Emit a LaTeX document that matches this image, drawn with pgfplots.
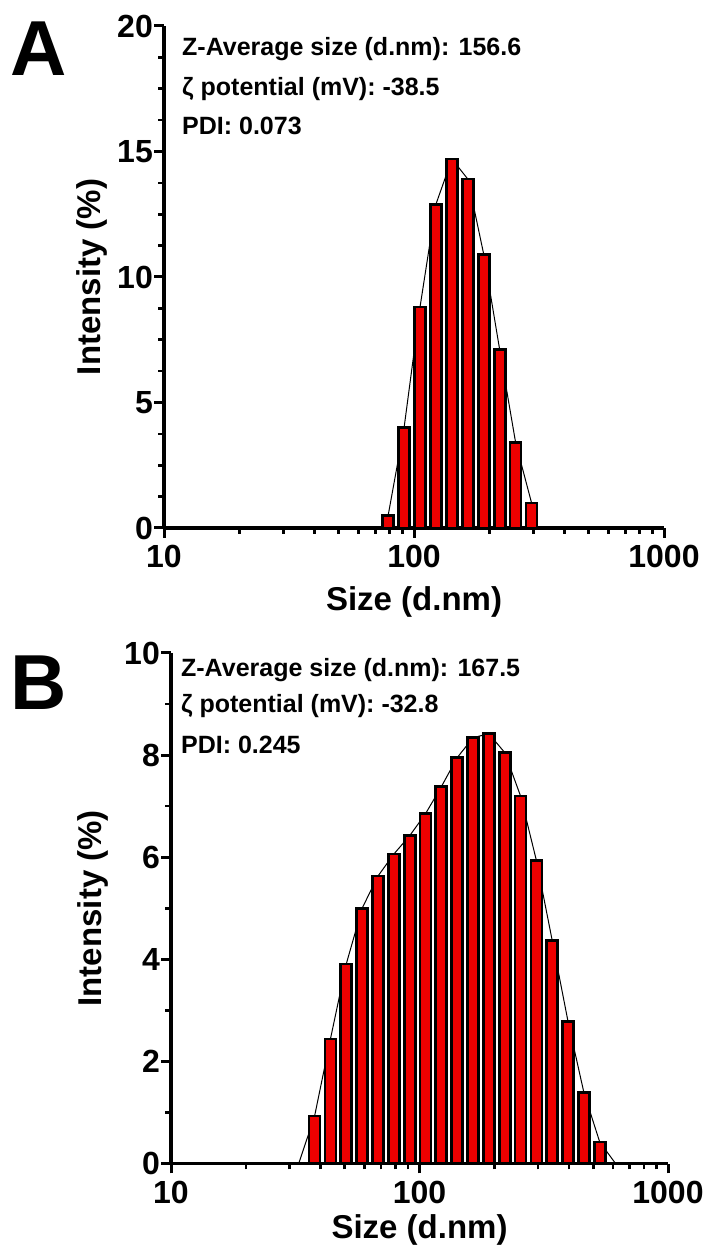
\documentclass[border=0pt]{standalone}
\usepackage{fontspec}
\setmainfont{Liberation Sans}
\usepackage{pgfplots}
\usepackage{pgfplotstable}
\pgfplotsset{compat=1.18}
\definecolor{barred}{RGB}{237,0,0}

\pgfplotstableread{
size int
78.82 0.5
91.28 4.0
105.7 8.8
122.4 12.9
141.8 14.7
164.2 13.9
190.1 10.9
220.2 7.1
255.0 3.4
295.3 1.0
}\dataA

\pgfplotstableread{
size int
37.84 0.93
43.82 2.44
50.75 3.91
58.77 5.00
68.06 5.63
78.82 6.06
91.28 6.42
105.7 6.85
122.4 7.38
141.8 7.95
164.2 8.34
190.1 8.42
220.2 8.05
255.0 7.20
295.3 5.94
342.0 4.37
396.1 2.78
458.7 1.39
531.2 0.42
}\dataB

\pgfplotstableread{
size int
32.67 0
37.84 0.93
43.82 2.44
50.75 3.91
58.77 5.00
68.06 5.63
78.82 6.06
91.28 6.42
105.7 6.85
122.4 7.38
141.8 7.95
164.2 8.34
190.1 8.42
220.2 8.05
255.0 7.20
295.3 5.94
342.0 4.37
396.1 2.78
458.7 1.39
531.2 0.42
615.1 0
}\lineB

\tikzset{myannot/.style={anchor=west, font=\fontsize{25}{25}\selectfont\bfseries, inner sep=0pt}}

\begin{document}
\begin{tikzpicture}[x=1pt,y=1pt]
\useasboundingbox (0,0) rectangle (705,1248);

% Panel A
\begin{axis}[
  scale only axis,
  xmode=log, xmin=10, xmax=1000,
  ymin=0, ymax=20,
  axis x line*=bottom, axis y line*=left,
  axis line style={-, line width=3.4pt, black},
  x axis line style={-, line width=3.4pt},
  y axis line style={-, line width=3.4pt},
  tick align=outside,
  major tick length=10pt, minor tick length=6pt,
  tick style={line width=3pt, black},
  major tick style={line width=3pt, black},
  minor tick style={line width=2.6pt, black},
  xtick={10,100,1000}, xticklabels={10,100,1000},
  ytick={0,5,10,15,20}, minor y tick num=3,
  /pgf/number format/assume math mode=true,
  tick label style={font=\fontsize{32}{32}\selectfont\bfseries, black},
  yticklabel style={inner sep=1pt},
  xticklabel style={inner sep=2pt, yshift=-5pt},
  xlabel={Size (d.nm)}, ylabel={Intensity (\%)},
  clip=false,
  at={(164pt,720pt)}, anchor=south west,
  width=500pt, height=502pt,
  every axis x label/.style={at={(axis description cs:0.5,-0.147)}, anchor=center, font=\fontsize{33}{33}\selectfont\bfseries},
  every axis y label/.style={at={(axis description cs:-0.144,0.5)}, anchor=center, rotate=90, font=\fontsize{33}{33}\selectfont\bfseries},
]
\addplot[black, line width=1pt, mark=none] table[x=size,y=int] {\dataA};
\addplot[ybar, bar shift=0pt, bar width=11pt, fill=barred, draw=black, line width=2.7pt] table[x=size,y=int] {\dataA};
\node[myannot] at (rel axis cs:0.036,0.954) {Z-Average size (d.nm): 156.6};
\node[myannot] at (rel axis cs:0.036,0.875) {ζ potential (mV): -38.5};
\node[myannot] at (rel axis cs:0.036,0.800) {PDI: 0.073};
\end{axis}

% Panel B
\begin{axis}[
  scale only axis,
  xmode=log, xmin=10, xmax=1000,
  ymin=0, ymax=10,
  axis x line*=bottom, axis y line*=left,
  axis line style={-, line width=3.4pt, black},
  x axis line style={-, line width=3.4pt},
  y axis line style={-, line width=3.4pt},
  tick align=outside,
  major tick length=10pt, minor tick length=6pt,
  tick style={line width=3pt, black},
  major tick style={line width=3pt, black},
  minor tick style={line width=2.6pt, black},
  xtick={10,100,1000}, xticklabels={10,100,1000},
  ytick={0,2,4,6,8,10}, minor y tick num=1,
  /pgf/number format/assume math mode=true,
  tick label style={font=\fontsize{32}{32}\selectfont\bfseries, black},
  yticklabel style={inner sep=1pt},
  xticklabel style={inner sep=2pt, yshift=-5pt},
  xlabel={Size (d.nm)}, ylabel={Intensity (\%)},
  clip=false,
  at={(171pt,84.5pt)}, anchor=south west,
  width=497pt, height=510.5pt,
  every axis x label/.style={at={(axis description cs:0.5,-0.130)}, anchor=center, font=\fontsize{33}{33}\selectfont\bfseries},
  every axis y label/.style={at={(axis description cs:-0.157,0.5)}, anchor=center, rotate=90, font=\fontsize{33}{33}\selectfont\bfseries},
]
\addplot[black, line width=1pt, mark=none] table[x=size,y=int] {\lineB};
\addplot[ybar, bar shift=0pt, bar width=11pt, fill=barred, draw=black, line width=2.7pt] table[x=size,y=int] {\dataB};
\node[myannot] at (rel axis cs:0.02,0.967) {Z-Average size (d.nm): 167.5};
\node[myannot] at (rel axis cs:0.02,0.896) {ζ potential (mV): -32.8};
\node[myannot] at (rel axis cs:0.02,0.820) {PDI: 0.245};
\end{axis}

\node[font=\fontsize{78}{78}\selectfont\bfseries] at (39,1199) {A};
\node[font=\fontsize{78}{78}\selectfont\bfseries] at (39,565) {B};
\end{tikzpicture}
\end{document}
